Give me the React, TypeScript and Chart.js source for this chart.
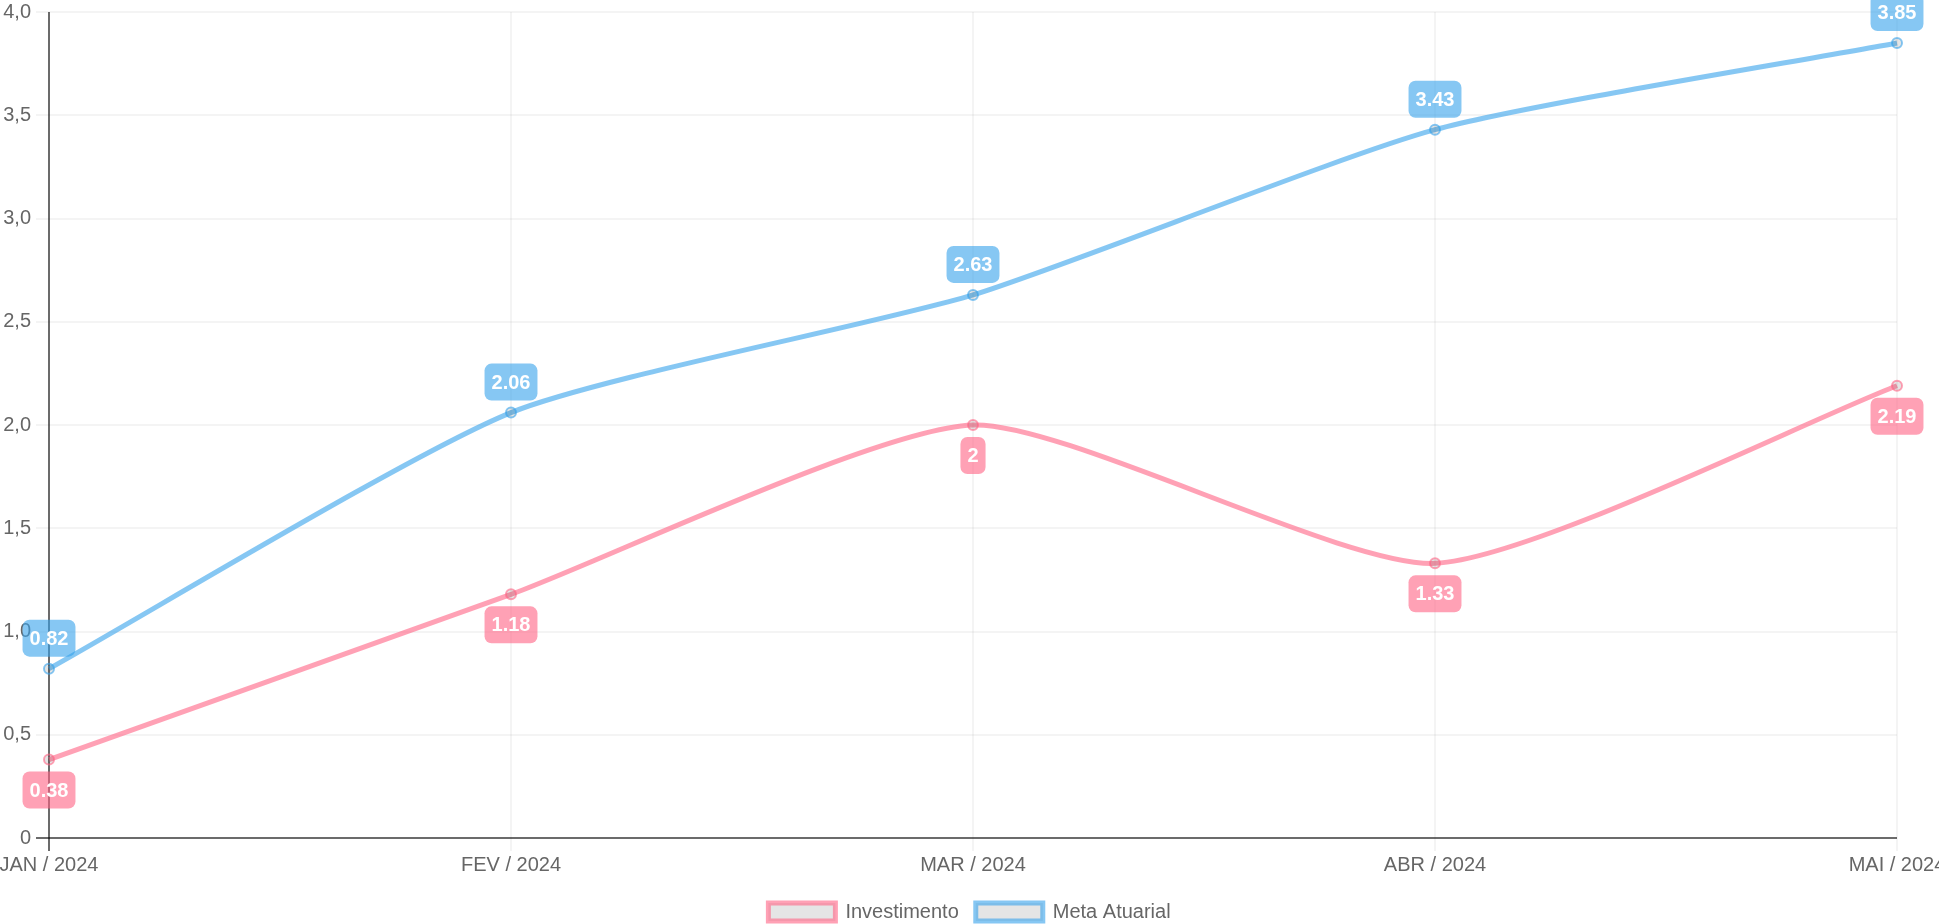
import React, { useEffect, useRef } from 'react';
import { Chart, registerables } from 'chart.js';

Chart.register(...registerables);

const categories: string[] = ['JAN / 2024', 'FEV / 2024', 'MAR / 2024', 'ABR / 2024', 'MAI / 2024'];
const investimento: number[] = [0.38, 1.18, 2, 1.33, 2.19];
const metaAtuarial: number[] = [0.82, 2.06, 2.63, 3.43, 3.85];
const seriesNames: string[] = ['Investimento', 'Meta Atuarial'];

const PINK = 'rgba(255, 99, 132, 0.6)';
const BLUE = 'rgba(54, 162, 235, 0.6)';
const FONT = "'Liberation Sans', Arial, Helvetica, sans-serif";
const ZERO_LINE = 'rgba(0, 0, 0, 0.58)';
const GRID = 'rgba(0, 0, 0, 0.045)';

const W = 1939;
const H = 932;

const valueLabels = {
  id: 'valueLabels',
  afterDatasetsDraw(chart: any) {
    const ctx = chart.ctx;
    chart.data.datasets.forEach((ds: any, di: number) => {
      const meta = chart.getDatasetMeta(di);
      if (meta.hidden) return;
      const above = di === 1;
      meta.data.forEach((pt: any, i: number) => {
        const text = String(ds.data[i]);
        ctx.save();
        ctx.font = `bold 20px ${FONT}`;
        const tw = ctx.measureText(text).width;
        const w = tw + 14;
        const h = 37;
        const x = pt.x - w / 2;
        const y = above ? pt.y - 12 - h : pt.y + 12;
        ctx.fillStyle = ds.borderColor;
        ctx.beginPath();
        ctx.roundRect(x, y, w, h, 7);
        ctx.fill();
        ctx.fillStyle = '#ffffff';
        ctx.textAlign = 'center';
        ctx.textBaseline = 'middle';
        ctx.fillText(text, pt.x, y + h / 2 + 1);
        ctx.restore();
      });
    });
  },
};

export default function App() {
  const ref = useRef<HTMLCanvasElement | null>(null);

  useEffect(() => {
    document.body.style.margin = '0';
    document.body.style.overflow = 'hidden';
    const canvas = ref.current;
    if (!canvas) return;
    const chart = new Chart(canvas, {
      type: 'line',
      data: {
        labels: categories,
        datasets: [
          {
            label: seriesNames[0],
            data: investimento,
            borderColor: PINK,
            backgroundColor: 'rgba(0,0,0,0.1)',
            borderWidth: 5,
            pointRadius: 5,
            pointBorderWidth: 2,
            pointBackgroundColor: 'rgba(0,0,0,0.1)',
            pointBorderColor: PINK,
            tension: 0.2,
            fill: false,
          },
          {
            label: seriesNames[1],
            data: metaAtuarial,
            borderColor: BLUE,
            backgroundColor: 'rgba(0,0,0,0.1)',
            borderWidth: 5,
            pointRadius: 5,
            pointBorderWidth: 2,
            pointBackgroundColor: 'rgba(0,0,0,0.1)',
            pointBorderColor: BLUE,
            tension: 0.2,
            fill: false,
          },
        ],
      },
      options: {
        responsive: false,
        animation: false,
        devicePixelRatio: 1,
        locale: 'pt-BR',
        font: { family: FONT, size: 20 },
        color: '#666',
        plugins: {
          legend: {
            position: 'bottom',
            labels: {
              boxWidth: 67,
              boxHeight: 18,
              padding: 17,
              color: '#666',
              font: { family: FONT, size: 20 },
            },
          },
          tooltip: { enabled: false },
        },
        scales: {
          x: {
            offset: false,
            border: { display: false },
            grid: {
              color: (c: any) => (c.index === 0 ? ZERO_LINE : GRID),
              lineWidth: 2,
              tickLength: 13,
            },
            ticks: {
              color: '#666',
              padding: 2,
              maxRotation: 0,
              autoSkip: false,
              font: { family: FONT, size: 20 },
            },
            afterFit: (scale: any) => {
              scale.paddingLeft = 0;
              scale.paddingRight = 42;
              scale.height = scale.height + 6;
            },
          },
          y: {
            min: 0,
            max: 4,
            border: { display: false },
            grid: {
              color: (c: any) => (c.tick && c.tick.value === 0 ? ZERO_LINE : GRID),
              lineWidth: 2,
              tickLength: 13,
            },
            ticks: {
              stepSize: 0.5,
              color: '#666',
              padding: 5,
              font: { family: FONT, size: 20 },
            },
            afterFit: (scale: any) => {
              scale.width = 49;
              scale.paddingTop = 12;
              scale.paddingBottom = 0;
            },
          },
        },
      },
      plugins: [valueLabels],
    });
    return () => chart.destroy();
  }, []);

  return (
    <div style={{ width: W, height: 924, overflow: 'hidden' }}>
      <canvas ref={ref} width={W} height={H} style={{ display: 'block', width: W, height: H }} />
    </div>
  );
}
